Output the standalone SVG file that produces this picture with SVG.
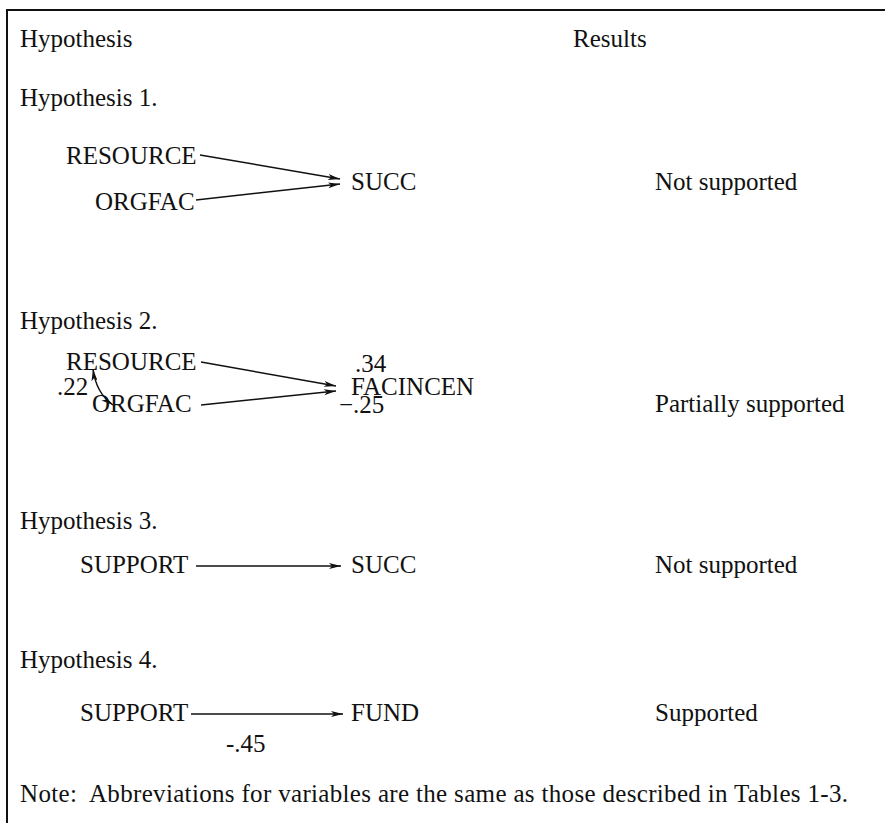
<svg xmlns="http://www.w3.org/2000/svg" width="885" height="823" viewBox="0 0 885 823">
<defs>
<marker id="ah" viewBox="0 0 12 6" refX="12" refY="3" markerWidth="12" markerHeight="6" markerUnits="userSpaceOnUse" orient="auto-start-reverse">
<path d="M0,0 L12,3 L0,6 L3,3 Z" fill="#111"/>
</marker>
<style>
text{font-family:"Liberation Serif","Times New Roman",serif;font-size:25px;fill:#111}
.c{fill:none;stroke:#111;stroke-width:1.5}
</style>
</defs>
<rect width="885" height="823" fill="#fff"/>
<g id="frame">
<line x1="6" y1="10" x2="885" y2="10" stroke="#111" stroke-width="2.2"/>
<line x1="7" y1="9" x2="7" y2="823" stroke="#111" stroke-width="2"/>
</g>
<g id="headers">
<text x="20" y="47">Hypothesis</text>
<text x="573" y="47">Results</text>
<text x="20" y="106">Hypothesis 1.</text>
<text x="20" y="329">Hypothesis 2.</text>
<text x="20" y="529">Hypothesis 3.</text>
<text x="20" y="668">Hypothesis 4.</text>
</g>
<g id="h1-resource"><text x="66" y="164">RESOURCE</text></g>
<g id="h1-orgfac"><text x="95" y="210">ORGFAC</text></g>
<g id="h1-succ"><text x="351" y="190">SUCC</text></g>
<g id="h1-result"><text x="655" y="190">Not supported</text></g>
<g id="h2-resource"><text x="66" y="370">RESOURCE</text></g>
<g id="h2-orgfac"><text x="92" y="412">ORGFAC</text></g>
<g id="h2-facincen"><text x="351" y="395">FACINCEN</text></g>
<g id="h2-result"><text x="655" y="412">Partially supported</text></g>
<g id="h3-support"><text x="80" y="573">SUPPORT</text></g>
<g id="h3-succ"><text x="351" y="573">SUCC</text></g>
<g id="h3-result"><text x="655" y="573">Not supported</text></g>
<g id="h4-support"><text x="80" y="721">SUPPORT</text></g>
<g id="h4-fund"><text x="351" y="721">FUND</text></g>
<g id="h4-result"><text x="655" y="721">Supported</text></g>
<g id="connectors">
<line class="c" x1="200" y1="155" x2="340" y2="179" marker-end="url(#ah)"/>
<line class="c" x1="196" y1="200" x2="340" y2="184" marker-end="url(#ah)"/>
<line class="c" x1="201" y1="362" x2="336" y2="386" marker-end="url(#ah)"/>
<line class="c" x1="201" y1="405" x2="336" y2="391" marker-end="url(#ah)"/>
<path class="c" d="M93,369 Q96,393 113,405" marker-start="url(#ah)" marker-end="url(#ah)"/>
<line class="c" x1="196" y1="566" x2="341" y2="566" marker-end="url(#ah)"/>
<line class="c" x1="191" y1="714" x2="343" y2="714" marker-end="url(#ah)"/>
</g>
<g id="labels">
<text x="355" y="372">.34</text>
<text x="57" y="395">.22</text>
<text x="339" y="413">−.25</text>
<text x="226" y="752">-.45</text>
</g>
<g id="note"><text x="20" y="802" xml:space="preserve" textLength="828" lengthAdjust="spacing">Note:  Abbreviations for variables are the same as those described in Tables 1-3.</text></g>
</svg>
